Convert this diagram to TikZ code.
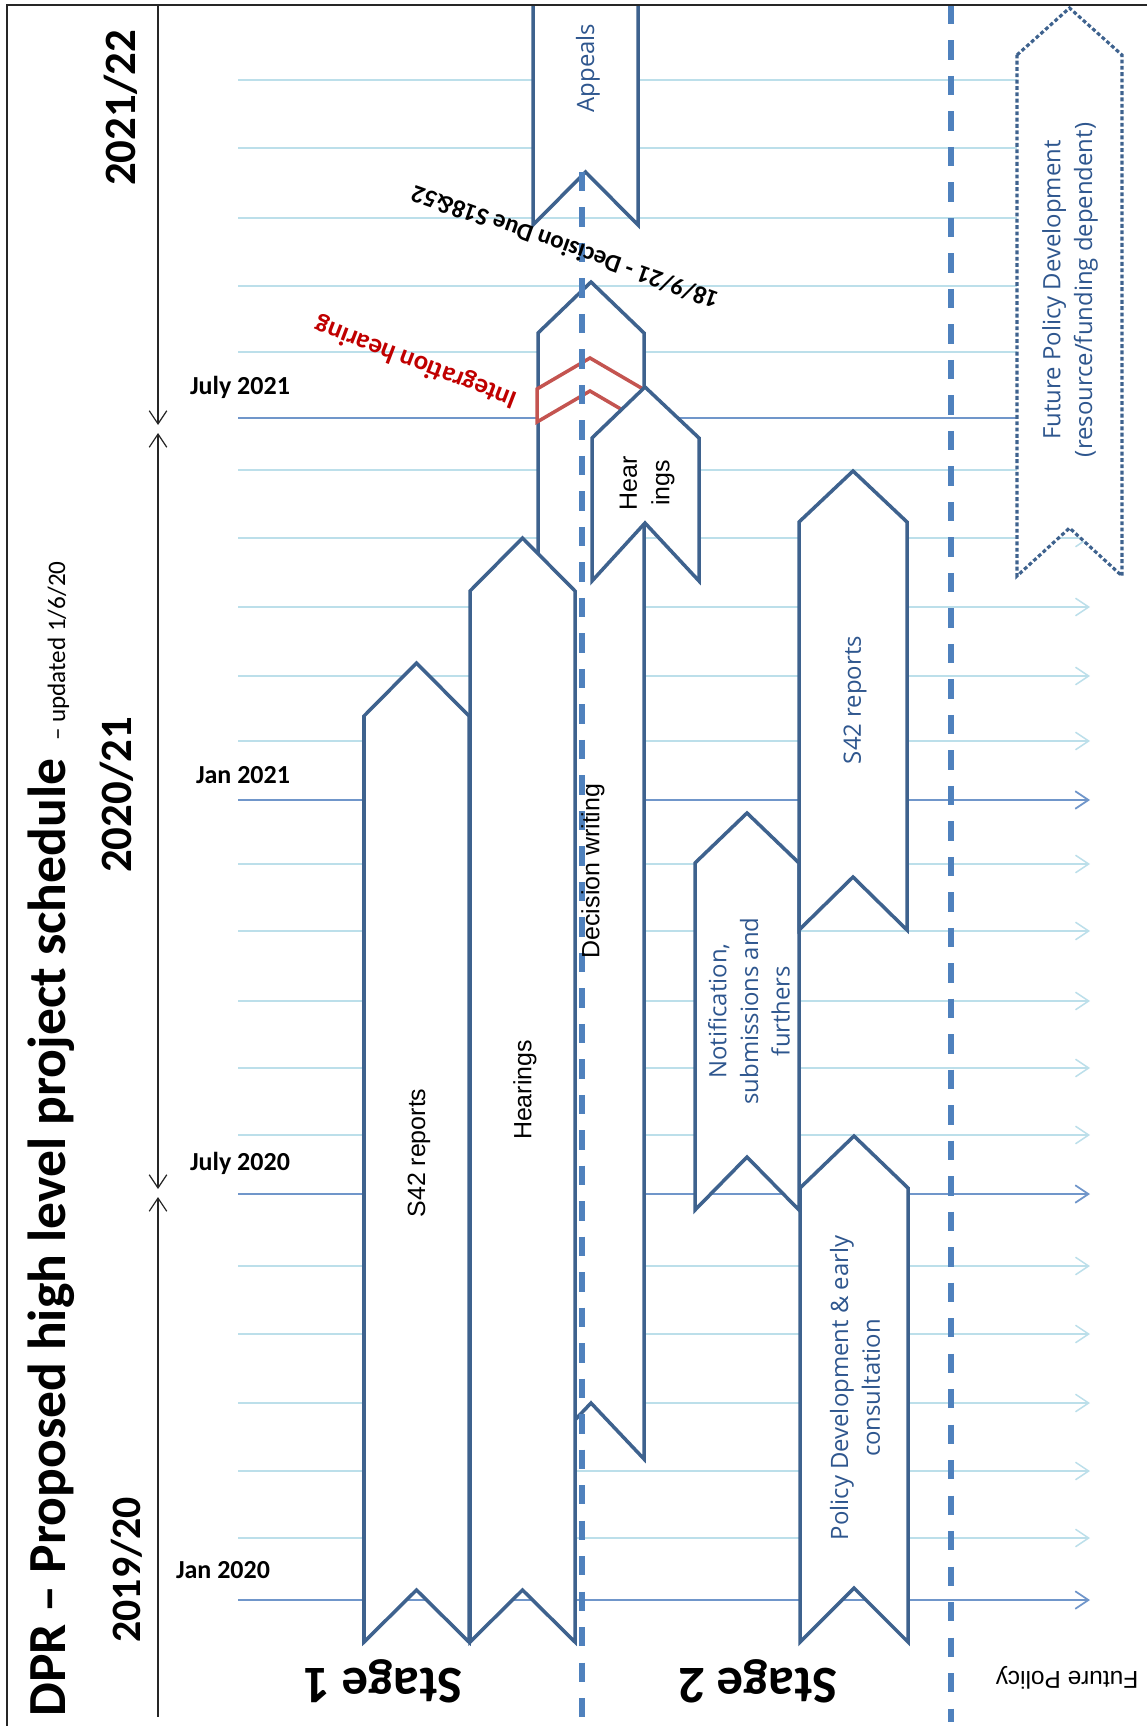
\documentclass[tikz,border=0pt]{standalone}
\usepackage{fontspec}
\usepackage{tikz}
\usetikzlibrary{arrows.meta}
\setmainfont{Carlito}
\newfontfamily\arialfont{Liberation Sans}
\newfontfamily\slidefont{Open Sans}

\definecolor{chevblue}{RGB}{62,98,142}
\definecolor{dashblue}{RGB}{79,129,189}
\definecolor{gridlight}{RGB}{188,223,234}
\definecolor{griddark}{RGB}{112,150,202}
\definecolor{intred}{RGB}{196,84,80}
\definecolor{hearred}{RGB}{192,0,0}
\definecolor{labelblue}{RGB}{46,86,142}

\begin{document}
\begin{tikzpicture}[
  x=0.02cm,y=-0.02cm,
  >={Straight Barb[length=7.5pt,width=10pt]},
  chev/.style={draw=chevblue, fill=white, line width=2pt},
  futchev/.style={chev, line width=1.8pt, dash pattern=on 2.2pt off 1.4pt},
  gridln/.style={->, draw=gridlight, line width=0.85pt},
  monthln/.style={->, draw=griddark, line width=1pt},
  divider/.style={draw=dashblue, line width=3.4pt, dash pattern=on 11pt off 9.2pt},
  yearspan/.style={draw=black!85, line width=0.7pt},
  titletxt/.style={font=\bfseries\fontsize{30.5}{36}\selectfont, rotate=90, inner sep=0pt},
  yeartxt/.style={font=\bfseries\fontsize{25.5}{30}\selectfont, rotate=90, inner sep=0pt},
  monthtxt/.style={font=\bfseries\fontsize{14.8}{18}\selectfont, inner sep=0pt},
  stagetxt/.style={font=\bfseries\fontsize{30}{36}\selectfont, rotate=180, inner sep=0pt},
  tasktxt/.style={font=\arialfont\fontsize{14.2}{18.5}\selectfont, rotate=90, inner sep=0pt, align=center},
  policytxt/.style={font=\slidefont\fontsize{13.6}{18}\selectfont, text=labelblue, rotate=90, inner sep=0pt, align=center}
]
\useasboundingbox (0,0) rectangle (1147,1726);

% month grid
\draw[gridln] (238,80) -- (1090,80);
\draw[gridln] (238,148) -- (1090,148);
\draw[gridln] (238,218) -- (1090,218);
\draw[gridln] (238,286) -- (1090,286);
\draw[gridln] (238,352) -- (1090,352);
\draw[monthln] (238,418) -- (1090,418);
\draw[gridln] (238,470) -- (1090,470);
\draw[gridln] (238,538) -- (1090,538);
\draw[gridln] (238,607) -- (1090,607);
\draw[gridln] (238,676) -- (1090,676);
\draw[gridln] (238,741) -- (1090,741);
\draw[monthln] (238,800) -- (1090,800);
\draw[gridln] (238,864) -- (1090,864);
\draw[gridln] (238,931) -- (1090,931);
\draw[gridln] (238,1001) -- (1090,1001);
\draw[gridln] (238,1068) -- (1090,1068);
\draw[gridln] (238,1135) -- (1090,1135);
\draw[monthln] (238,1194) -- (1090,1194);
\draw[gridln] (238,1266) -- (1090,1266);
\draw[gridln] (238,1334) -- (1090,1334);
\draw[gridln] (238,1403) -- (1090,1403);
\draw[gridln] (238,1471) -- (1090,1471);
\draw[gridln] (238,1538) -- (1090,1538);
\draw[monthln] (238,1600) -- (1090,1600);

% financial year spans
\coordinate (fytop) at (158,5);
\coordinate (fyjul21a) at (158,425);
\coordinate (fyjul21b) at (158,433);
\coordinate (fyjul20a) at (158,1189);
\coordinate (fyjul20b) at (158,1197);
\coordinate (fybot) at (158,1717);
\draw[yearspan, ->] (fytop) -- (fyjul21a);
\draw[yearspan, <->] (fyjul21b) -- (fyjul20a);
\draw[yearspan, <-] (fyjul20b) -- (fybot);

% stage 1
\draw[chev] (364,716) -- (416.5,663) -- (469,716) -- (469,1642) -- (416.5,1590) -- (364,1642) -- cycle;
\draw[chev] (538,333) -- (591,282) -- (644,333) -- (644,1459) -- (591,1403) -- (538,1459) -- cycle;
\draw[chev] (470,591) -- (522.5,538) -- (575,591) -- (575,1642) -- (522.5,1590) -- (470,1642) -- cycle;
\draw[chev, draw=intred] (537,389) -- (590,358) -- (643,389) -- (643,422) -- (590,391) -- (537,422) -- cycle;
\draw[chev] (592,438) -- (645,387) -- (699,438) -- (699,581) -- (645,523) -- (592,581) -- cycle;
\fill[white] (533,5) -- (533,225) -- (585.5,172) -- (638,225) -- (638,5) -- cycle;
\draw[chev] (533,5) -- (533,225) -- (585.5,172) -- (638,225) -- (638,5);

% stage 2
\draw[chev] (695,863) -- (747,813) -- (799,863) -- (799,1210) -- (747,1157) -- (695,1210) -- cycle;
\draw[chev] (799,522) -- (853,471) -- (907,522) -- (907,930) -- (853,877) -- (799,930) -- cycle;
\draw[chev] (800,1188) -- (854,1136) -- (908,1188) -- (908,1642) -- (854,1588) -- (800,1642) -- cycle;

% future policy
\draw[futchev] (1017,55) -- (1069.5,8) -- (1122,55) -- (1122,576) -- (1069.5,528) -- (1017,576) -- cycle;

% stage dividers
\draw[divider] (582,172) -- (582,1722);
\draw[divider] (951,5) -- (951,1722);

% frame
\draw[black!85, line width=0.9pt] (7,1726) -- (7,5) -- (1147,5);

\node[titletxt, anchor=base west] (ttl) at (65,1717)
  {DPR – Proposed high level project schedule {\mdseries\fontsize{14.3}{17}\selectfont\ – updated 1/6/20}};
\node[yeartxt] (fy2122) at (121,108) {2021/22};
\node[yeartxt] (fy2021) at (117,795) {2020/21};
\node[yeartxt, font=\bfseries\fontsize{23.8}{28}\selectfont] (fy1920) at (127,1570) {2019/20};

\node[monthtxt] (jul21) at (240,387) {July 2021};
\node[monthtxt] (jan21) at (243,775) {Jan 2021};
\node[monthtxt] (jul20) at (240,1163) {July 2020};
\node[monthtxt] (jan20) at (223,1570) {Jan 2020};

\node[stagetxt] (stg1) at (383,1681) {Stage 1};
\node[stagetxt] (stg2) at (758,1681) {Stage 2};
\node[font=\arialfont\fontsize{13.9}{17}\selectfont, rotate=180, inner sep=0pt] (futlbl) at (1067,1678) {Future Policy};

\node[tasktxt] (s42a) at (419,1153) {S42 reports};
\node[tasktxt] (hear1) at (525,1090) {Hearings};
\node[tasktxt] (decw) at (593,871) {Decision writing};
\node[tasktxt] (hear2) at (647,483) {Hear\\ings};
\node[policytxt] (appl) at (588,68) {Appeals};

\node[font=\bfseries\fontsize{14.2}{18}\selectfont, rotate=160.4, inner sep=0pt] (due) at (565,247)
  {18/9/21 - Decision Due S18\&52};
\node[font=\bfseries\fontsize{15.3}{18}\selectfont, text=hearred, rotate=159, inner sep=0pt] (intg) at (416,362)
  {Integration hearing};

\node[policytxt] (notif) at (749,1011) {Notification,\\submissions and\\furthers};
\node[policytxt] (s42b) at (855,700) {S42 reports};
\node[policytxt] (poldev) at (855,1388) {Policy Development \& early\\consultation};
\node[policytxt] (futpol) at (1070,290) {Future Policy Development\\(resource/funding dependent)};
\end{tikzpicture}
\end{document}
